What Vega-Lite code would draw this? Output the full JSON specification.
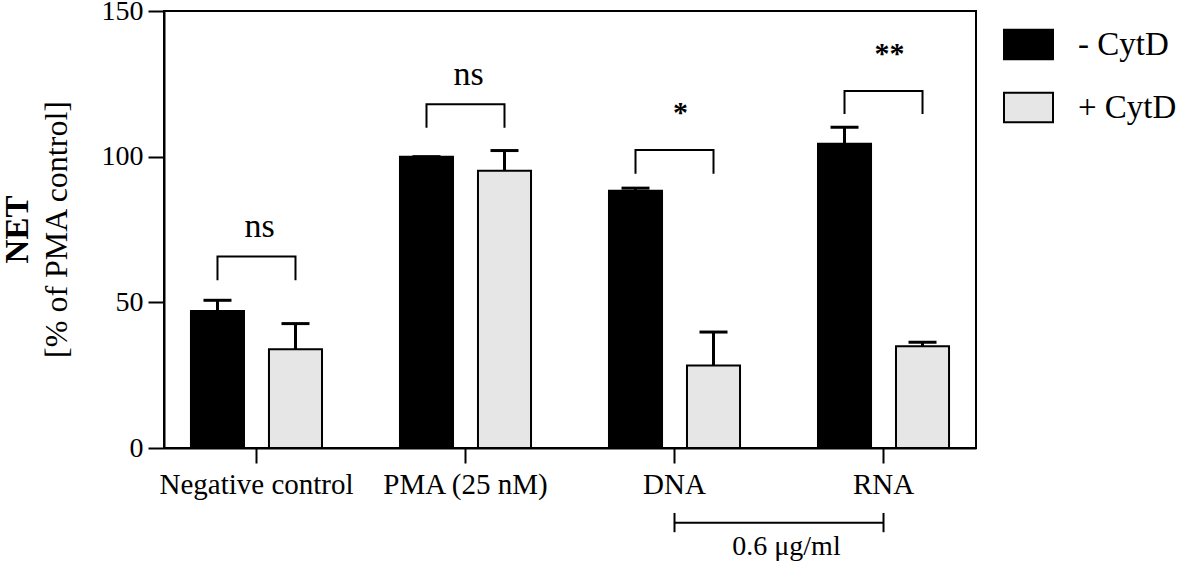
{
  "$schema": "https://vega.github.io/schema/vega-lite/v6.json",
  "width": 812,
  "height": 437,
  "autosize": "none",
  "padding": {"left": 164, "top": 11, "right": 205, "bottom": 115},
  "background": "white",
  "title": {
    "text": "NET",
    "subtitle": "[% of PMA control]",
    "orient": "left",
    "anchor": "middle",
    "frame": "group",
    "font": "Liberation Serif",
    "fontSize": 33,
    "fontWeight": "bold",
    "color": "black",
    "subtitleFont": "Liberation Serif",
    "subtitleFontSize": 32,
    "subtitleFontWeight": "normal",
    "subtitleColor": "black",
    "subtitlePadding": 7,
    "offset": 28
  },
  "config": {
    "font": "Liberation Serif",
    "view": {"stroke": "black", "strokeWidth": 2},
    "axis": {
      "domainColor": "black",
      "domainWidth": 2,
      "tickColor": "black",
      "tickWidth": 2,
      "labelColor": "black",
      "labelFont": "Liberation Serif",
      "labelLimit": 0,
      "grid": false
    },
    "legend": {
      "orient": "none",
      "legendX": 839,
      "legendY": 8,
      "padding": 0,
      "symbolType": "M-1,-0.6H1V0.6H-1Z",
      "symbolSize": 2401,
      "symbolStrokeColor": "black",
      "symbolStrokeWidth": 2,
      "symbolOpacity": 1,
      "labelFont": "Liberation Serif",
      "labelFontSize": 33,
      "labelColor": "black",
      "labelOffset": 24,
      "labelLimit": 0,
      "rowPadding": 18
    }
  },
  "datasets": {
    "bars": [
      {"group": "Negative control", "cytd": "- CytD", "value": 47.0, "upper": 50.7},
      {"group": "Negative control", "cytd": "+ CytD", "value": 33.9, "upper": 42.7},
      {"group": "PMA (25 nM)", "cytd": "- CytD", "value": 100.0, "upper": 100.0},
      {"group": "PMA (25 nM)", "cytd": "+ CytD", "value": 95.2, "upper": 102.1},
      {"group": "DNA", "cytd": "- CytD", "value": 88.3, "upper": 89.2},
      {"group": "DNA", "cytd": "+ CytD", "value": 28.3, "upper": 39.8},
      {"group": "RNA", "cytd": "- CytD", "value": 104.4, "upper": 110.1},
      {"group": "RNA", "cytd": "+ CytD", "value": 34.9, "upper": 36.3}
    ],
    "brackets": [
      {"group": "Negative control", "side": "- CytD", "y": 57.9, "order": 1},
      {"group": "Negative control", "side": "- CytD", "y": 65.7, "order": 2},
      {"group": "Negative control", "side": "+ CytD", "y": 65.7, "order": 3},
      {"group": "Negative control", "side": "+ CytD", "y": 57.9, "order": 4},
      {"group": "PMA (25 nM)", "side": "- CytD", "y": 110.3, "order": 1},
      {"group": "PMA (25 nM)", "side": "- CytD", "y": 118.0, "order": 2},
      {"group": "PMA (25 nM)", "side": "+ CytD", "y": 118.0, "order": 3},
      {"group": "PMA (25 nM)", "side": "+ CytD", "y": 110.3, "order": 4},
      {"group": "DNA", "side": "- CytD", "y": 94.5, "order": 1},
      {"group": "DNA", "side": "- CytD", "y": 102.3, "order": 2},
      {"group": "DNA", "side": "+ CytD", "y": 102.3, "order": 3},
      {"group": "DNA", "side": "+ CytD", "y": 94.5, "order": 4},
      {"group": "RNA", "side": "- CytD", "y": 115.0, "order": 1},
      {"group": "RNA", "side": "- CytD", "y": 122.5, "order": 2},
      {"group": "RNA", "side": "+ CytD", "y": 122.5, "order": 3},
      {"group": "RNA", "side": "+ CytD", "y": 115.0, "order": 4}
    ],
    "ns": [
      {"group": "Negative control", "label": "ns", "y": 72.5},
      {"group": "PMA (25 nM)", "label": "ns", "y": 124.6}
    ],
    "stars": [
      {"group": "DNA", "label": "*", "y": 112.0},
      {"group": "RNA", "label": "**", "y": 132.0}
    ],
    "range": [
      {"group": "DNA", "y": -25.7, "lo": -22.3, "hi": -28.9},
      {"group": "RNA", "y": -25.7, "lo": -22.3, "hi": -28.9}
    ],
    "rangeLabel": [
      {"group": "DNA", "label": "0.6 μg/ml", "y": -36.7}
    ]
  },
  "encoding": {
    "x": {
      "field": "group",
      "type": "nominal",
      "sort": ["Negative control", "PMA (25 nM)", "DNA", "RNA"],
      "scale": {
        "domain": ["Negative control", "PMA (25 nM)", "DNA", "RNA"],
        "paddingInner": 0.373,
        "paddingOuter": 0.129
      },
      "axis": {
        "title": null,
        "labelAngle": 0,
        "tickSize": 15,
        "labelFontSize": 29,
        "labelPadding": 7
      }
    }
  },
  "layer": [
    {
      "data": {"name": "bars"},
      "mark": {"type": "bar", "stroke": "black", "strokeWidth": 2},
      "encoding": {
        "xOffset": {
          "field": "cytd",
          "type": "nominal",
          "scale": {"domain": ["- CytD", "+ CytD"], "paddingInner": 0.32, "paddingOuter": 0}
        },
        "y": {
          "field": "value",
          "type": "quantitative",
          "scale": {"domain": [0, 150], "nice": false, "zero": true},
          "axis": {
            "title": null,
            "values": [0, 50, 100, 150],
            "tickSize": 16,
            "labelFontSize": 28,
            "labelPadding": 5
          }
        },
        "fill": {
          "field": "cytd",
          "type": "nominal",
          "scale": {"domain": ["- CytD", "+ CytD"], "range": ["#000000", "#e6e6e6"]},
          "legend": {"title": null}
        }
      }
    },
    {
      "data": {"name": "bars"},
      "mark": {"type": "rule", "color": "black", "strokeWidth": 3},
      "encoding": {
        "xOffset": {"field": "cytd", "type": "nominal"},
        "y": {"field": "value", "type": "quantitative"},
        "y2": {"field": "upper"}
      }
    },
    {
      "data": {"name": "bars"},
      "mark": {"type": "tick", "color": "black", "size": 28, "thickness": 3, "opacity": 1},
      "encoding": {
        "xOffset": {"field": "cytd", "type": "nominal"},
        "y": {"field": "upper", "type": "quantitative"}
      }
    },
    {
      "data": {"name": "brackets"},
      "mark": {"type": "line", "color": "black", "strokeWidth": 2, "strokeCap": "square"},
      "encoding": {
        "xOffset": {"field": "side", "type": "nominal"},
        "y": {"field": "y", "type": "quantitative"},
        "detail": {"field": "group"},
        "order": {"field": "order"}
      }
    },
    {
      "data": {"name": "ns"},
      "mark": {"type": "text", "fontSize": 34, "color": "black", "baseline": "alphabetic", "align": "center", "dx": 3},
      "encoding": {
        "y": {"field": "y", "type": "quantitative"},
        "text": {"field": "label"}
      }
    },
    {
      "data": {"name": "stars"},
      "mark": {"type": "text", "fontSize": 30, "fontWeight": "bold", "color": "black", "baseline": "alphabetic", "align": "center", "dx": 6},
      "encoding": {
        "y": {"field": "y", "type": "quantitative"},
        "text": {"field": "label"}
      }
    },
    {
      "data": {"name": "range"},
      "mark": {"type": "line", "color": "black", "strokeWidth": 2},
      "encoding": {
        "y": {"field": "y", "type": "quantitative"}
      }
    },
    {
      "data": {"name": "range"},
      "mark": {"type": "rule", "color": "black", "strokeWidth": 2},
      "encoding": {
        "y": {"field": "lo", "type": "quantitative"},
        "y2": {"field": "hi"}
      }
    },
    {
      "data": {"name": "rangeLabel"},
      "mark": {"type": "text", "fontSize": 28, "color": "black", "baseline": "alphabetic", "align": "center", "dx": 112},
      "encoding": {
        "y": {"field": "y", "type": "quantitative"},
        "text": {"field": "label"}
      }
    }
  ]
}
